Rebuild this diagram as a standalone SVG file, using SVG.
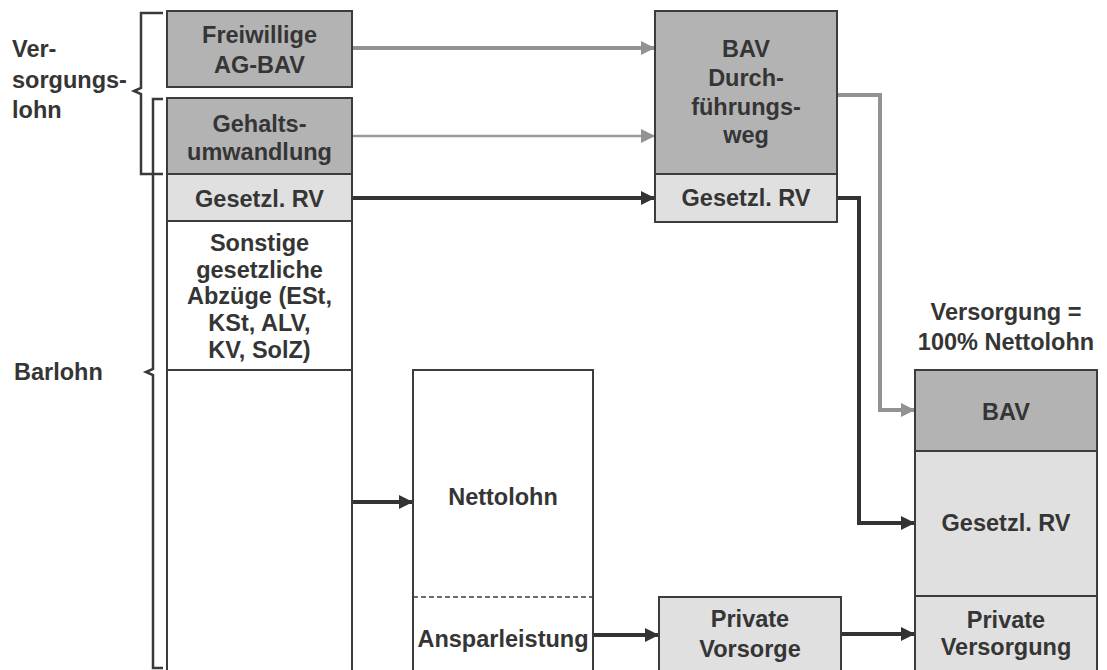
<svg xmlns="http://www.w3.org/2000/svg" width="1107" height="670" viewBox="0 0 1107 670">
<defs>
<style>
text{font-family:"Liberation Sans",Arial,sans-serif;font-weight:bold;font-size:23.5px;fill:#353535;text-anchor:middle}
.lbl{text-anchor:start}
.dark{fill:#b3b3b3;stroke:#3c3c3c;stroke-width:2}
.light{fill:#e0e0e0;stroke:#3c3c3c;stroke-width:2}
.white{fill:#ffffff;stroke:#3c3c3c;stroke-width:2}
.brace{fill:none;stroke:#3a3a3a;stroke-width:2.5}
.ag{fill:none;stroke:#929292;stroke-width:4}
.ag2{fill:none;stroke:#9a9a9a;stroke-width:2.5}
.ad{fill:none;stroke:#333333;stroke-width:4}
</style>
<marker id="hg" markerUnits="userSpaceOnUse" markerWidth="14" markerHeight="14" refX="13" refY="7" orient="auto"><path d="M0,0 L14,7 L0,14 Z" fill="#929292"/></marker>
<marker id="hd" markerUnits="userSpaceOnUse" markerWidth="14" markerHeight="14" refX="13" refY="7" orient="auto"><path d="M0,0 L14,7 L0,14 Z" fill="#333333"/></marker>
</defs>
<rect width="1107" height="670" fill="#ffffff"/>

<g id="connectors">
<path class="ag" d="M352,48 H654" marker-end="url(#hg)"/>
<path class="ag2" d="M352,136 H654" marker-end="url(#hg)"/>
<path class="ad" d="M352,198 H654" marker-end="url(#hd)"/>
<path class="ag" d="M837,95 H880 V410 H914" marker-end="url(#hg)"/>
<path class="ad" d="M837,198 H859 V523 H914" marker-end="url(#hd)"/>
<path class="ad" d="M352,502 H412" marker-end="url(#hd)"/>
<path class="ad" d="M593,635 H658" marker-end="url(#hd)"/>
<path class="ad" d="M841,634 H914" marker-end="url(#hd)"/>
</g>

<g id="brace-versorgungslohn">
<path class="brace" d="M163,13 H141 V88 L134,91 L141,94 V174 H163"/>
<text class="lbl" x="12" y="57">Ver-</text>
<text class="lbl" x="12" y="88">sorgungs-</text>
<text class="lbl" x="12" y="118">lohn</text>
</g>
<g id="brace-barlohn">
<path class="brace" d="M163,99 H153 V369 L146,372 L153,375 V668 H163"/>
<text class="lbl" x="14" y="380">Barlohn</text>
</g>

<g id="freiwillige">
<rect class="dark" x="167" y="11" width="185" height="76"/>
<text x="259.5" y="43">Freiwillige</text>
<text x="259.5" y="73">AG-BAV</text>
</g>
<g id="gehaltsumwandlung">
<rect class="dark" x="167" y="98" width="185" height="76"/>
<text x="259.5" y="132">Gehalts-</text>
<text x="259.5" y="160">umwandlung</text>
</g>
<g id="gesetzl-rv-left">
<rect class="light" x="167" y="174" width="185" height="47"/>
<text x="259.5" y="207">Gesetzl. RV</text>
</g>
<g id="sonstige">
<rect class="white" x="167" y="221" width="185" height="149"/>
<text x="259.5" y="251">Sonstige</text>
<text x="259.5" y="278">gesetzliche</text>
<text x="259.5" y="304">Abzüge (ESt,</text>
<text x="259.5" y="331">KSt, ALV,</text>
<text x="259.5" y="358">KV, SolZ)</text>
</g>
<g id="rest-left">
<rect class="white" x="167" y="370" width="185" height="310"/>
</g>

<g id="bav-durchfuehrungsweg">
<rect class="dark" x="655" y="11" width="182" height="163"/>
<text x="746" y="57">BAV</text>
<text x="746" y="86">Durch-</text>
<text x="746" y="115">führungs-</text>
<text x="746" y="143">weg</text>
</g>
<g id="gesetzl-rv-mid">
<rect class="light" x="655" y="174" width="182" height="48"/>
<text x="746" y="206">Gesetzl. RV</text>
</g>

<g id="nettolohn">
<rect class="white" x="413" y="370" width="180" height="310"/>
<path d="M413,597 H593" stroke="#3c3c3c" stroke-width="1.5" stroke-dasharray="5,3" fill="none"/>
<text x="503" y="505">Nettolohn</text>
<text x="503" y="647">Ansparleistung</text>
</g>

<g id="private-vorsorge">
<rect class="light" x="659" y="597" width="182" height="80"/>
<text x="750" y="627">Private</text>
<text x="750" y="657">Vorsorge</text>
</g>

<g id="versorgung-title">
<text x="1006" y="320">Versorgung =</text>
<text x="1006" y="350">100% Nettolohn</text>
</g>
<g id="bav-right">
<rect class="dark" x="915" y="370" width="182" height="81"/>
<text x="1006" y="420">BAV</text>
</g>
<g id="gesetzl-rv-right">
<rect class="light" x="915" y="451" width="182" height="145"/>
<text x="1006" y="531">Gesetzl. RV</text>
</g>
<g id="private-versorgung">
<rect class="light" x="915" y="596" width="182" height="84"/>
<text x="1006" y="628">Private</text>
<text x="1006" y="655">Versorgung</text>
</g>
</svg>
